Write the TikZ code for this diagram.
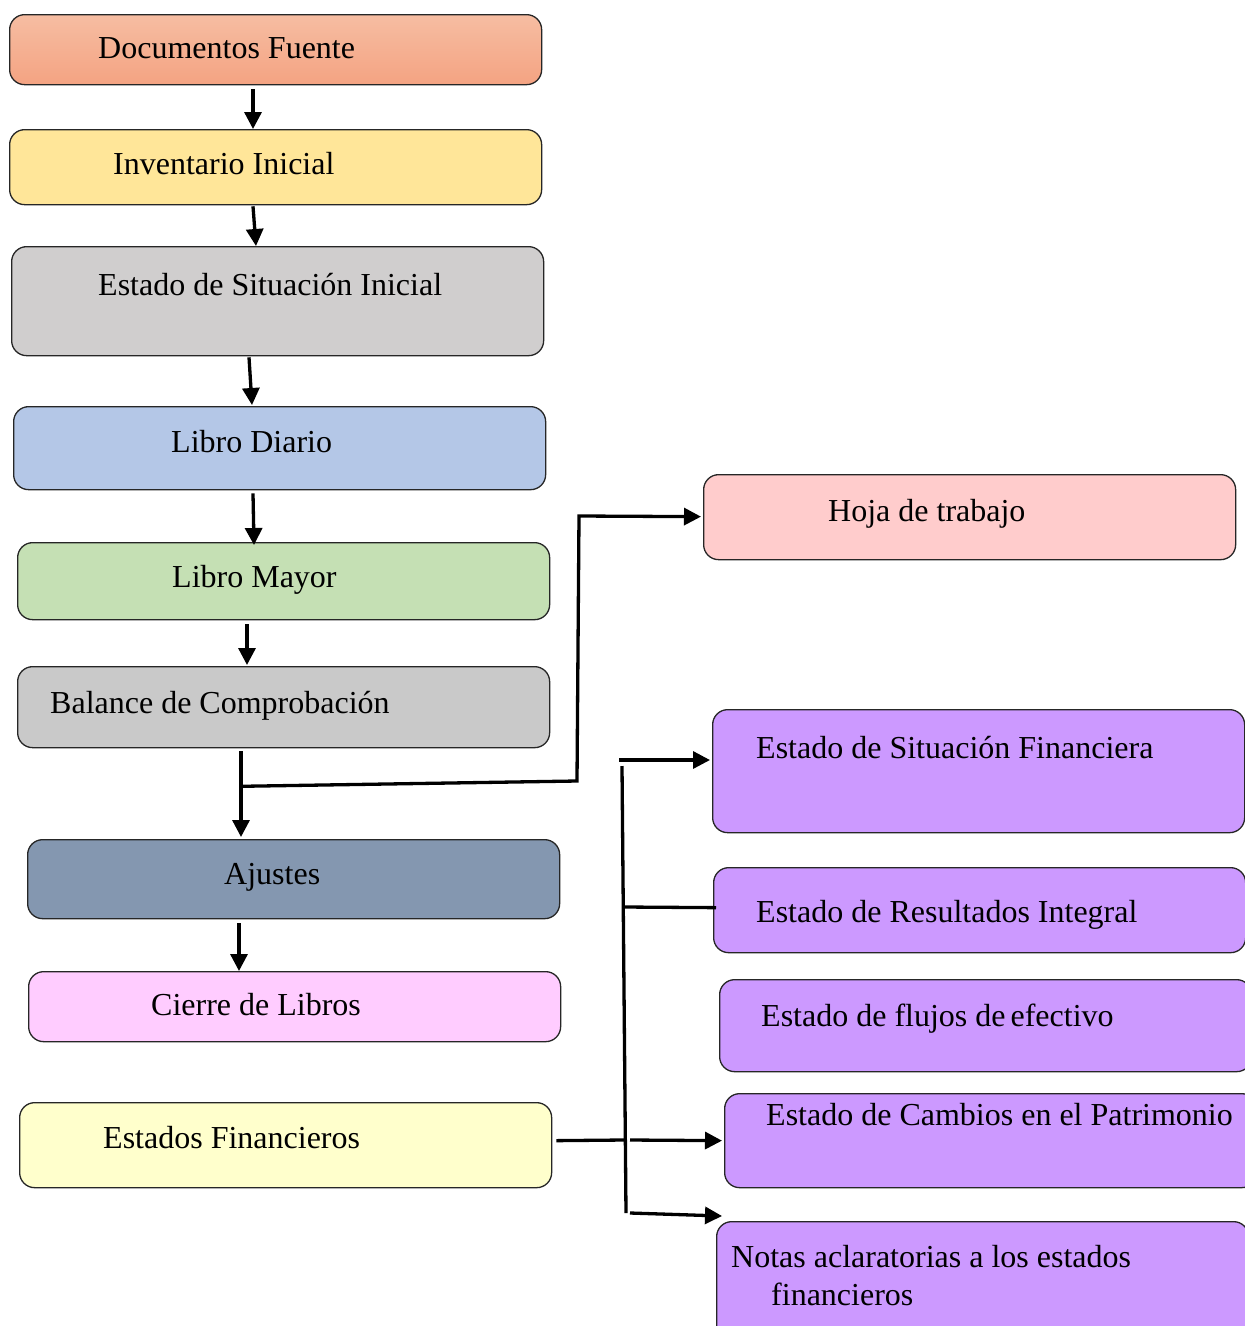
\documentclass[tikz,border=0pt]{standalone}
\usepackage{fontspec}
\setmainfont{Liberation Serif}
\usetikzlibrary{arrows.meta,calc}
\definecolor{cdocA}{HTML}{F6BDA2}
\definecolor{cdocB}{HTML}{F4A382}
\definecolor{cinv}{HTML}{FFE699}
\definecolor{cesi}{HTML}{D0CECE}
\definecolor{cdia}{HTML}{B4C7E7}
\definecolor{cmay}{HTML}{C5E0B4}
\definecolor{cbal}{HTML}{C9C9C9}
\definecolor{caj}{HTML}{8497B0}
\definecolor{ccie}{HTML}{FFCCFF}
\definecolor{cef}{HTML}{FFFFCC}
\definecolor{choja}{HTML}{FFCCCC}
\definecolor{cpur}{HTML}{CC99FF}
\tikzset{
  box/.style={draw=black!85, line width=1.3pt, rounded corners=15pt, anchor=north west, minimum width=532pt, inner sep=0pt},
  lbl/.style={anchor=base west, inner sep=0pt, font=\fontsize{32}{38}\selectfont},
  conn/.style={line width=3.3pt},
  arr/.style={line width=3.3pt, -{Triangle[length=17pt,width=17pt]}},
}
\begin{document}
\begin{tikzpicture}[x=1pt,y=-1pt]
\useasboundingbox (0,0) rectangle (1245,1326);
\clip (0,0) rectangle (1245,1326);
\fill[white] (0,0) rectangle (1245,1326);
% left column boxes
\node[box, top color=cdocA, bottom color=cdocB, minimum height=70pt] (doc) at (9,14) {};
\node[box, fill=cinv, minimum height=75pt] (inv) at (9,129) {};
\node[box, fill=cesi, minimum height=109pt] (esi) at (11,246) {};
\node[box, fill=cdia, minimum height=83pt] (dia) at (13,406) {};
\node[box, fill=cmay, minimum height=77pt] (may) at (17,542) {};
\node[box, fill=cbal, minimum height=81pt] (bal) at (17,666) {};
\node[box, fill=caj, minimum height=79pt] (aj) at (27,839) {};
\node[box, fill=ccie, minimum height=70pt] (cie) at (28,971) {};
\node[box, fill=cef, minimum height=85pt] (ef) at (19,1102) {};
% right column boxes
\node[box, fill=choja, minimum height=85pt] (hoja) at (703,474) {};
\node[box, fill=cpur, minimum height=123pt] (p1) at (712,709) {};
\node[box, fill=cpur, minimum height=85pt] (p2) at (713,867) {};
\node[box, fill=cpur, minimum height=92pt] (p3) at (719,979) {};
\node[box, fill=cpur, minimum height=94pt] (p4) at (724,1093) {};
\node[box, fill=cpur, minimum height=125pt] (p5) at (716,1221) {};
% labels
\node[lbl] (tdoc) at (98,58) {Documentos Fuente};
\node[lbl] (tinv) at (113,174) {Inventario Inicial};
\node[lbl] (tesi) at (98,295) {Estado de Situación Inicial};
\node[lbl] (tdia) at (171,452) {Libro Diario};
\node[lbl] (tmay) at (172,587) {Libro Mayor};
\node[lbl] (tbal) at (50,713) {Balance de Comprobación};
\node[lbl] (taj) at (224,884) {Ajustes};
\node[lbl] (tcie) at (151,1015) {Cierre de Libros};
\node[lbl] (tef) at (103,1148) {Estados Financieros};
\node[lbl] (thoja) at (828,521) {Hoja de trabajo};
\node[lbl] (tp1) at (756,758) {Estado de Situación Financiera};
\node[lbl] (tp2) at (756,922) {Estado de Resultados Integral};
\node[lbl] (tp3) at (761,1026) {Estado de flujos de\hspace{-3pt} efectivo};
\node[lbl] (tp4) at (766,1125) {Estado de Cambios en el Patrimonio};
\node[lbl] (tp5a) at (731,1267) {Notas aclaratorias a los estados};
\node[lbl] (tp5b) at (771,1305) {financieros};
% vertical chain
\draw[arr] ([xshift=244pt,yshift=-4pt]doc.south west) -- ([xshift=244pt]inv.north west);
\draw[arr] ([xshift=244pt,yshift=-1pt]inv.south west) -- ([xshift=245pt]esi.north west);
\draw[arr] ([xshift=238pt,yshift=-1pt]esi.south west) -- ([xshift=239pt,yshift=1pt]dia.north west);
\draw[arr] ([xshift=240pt,yshift=-3pt]dia.south west) -- ([xshift=237pt,yshift=-3pt]may.north west);
\draw[arr] ([xshift=230pt,yshift=-4pt]may.south west) -- ([xshift=230pt,yshift=1pt]bal.north west);
\draw[arr] ([xshift=224pt,yshift=-3pt]bal.south west) -- ([xshift=214pt,yshift=2pt]aj.north west);
\draw[arr] ([xshift=212pt,yshift=-4pt]aj.south west) -- ([xshift=211pt]cie.north west);
% branch to Hoja de trabajo
\coordinate (j1) at ($(bal.south west)+(224,38)$);
\coordinate (k1) at (577,781);
\coordinate (k2) at (579,516);
\draw[arr] (j1) -- (k1) -- (k2) -- ([xshift=-2pt,yshift=0.5pt]hoja.west);
% financial statements bus
\coordinate (b1) at (622,766);
\coordinate (b2) at (626,1213);
\coordinate (m1) at (624,1140);
\coordinate (m2) at (624,907);
\coordinate (s1) at (619,760);
\coordinate (s4) at (630,1140);
\coordinate (s5) at (630,1213);
\coordinate (e1) at ($(p1.north west)+(-2,51)$);
\draw[conn] (b1) -- (b2);
\draw[conn] ([xshift=4pt,yshift=4.5pt]ef.east) -- (m1);
\draw[arr] (s1) -- (e1);
\draw[conn] (m2) -- ([xshift=3pt,yshift=2.5pt]p2.west);
\draw[arr] (s4) -- ([xshift=-2pt]p4.west);
\draw[arr] (s5) -- ($(p5.north west)+(6,-5)$);
\end{tikzpicture}
\end{document}
